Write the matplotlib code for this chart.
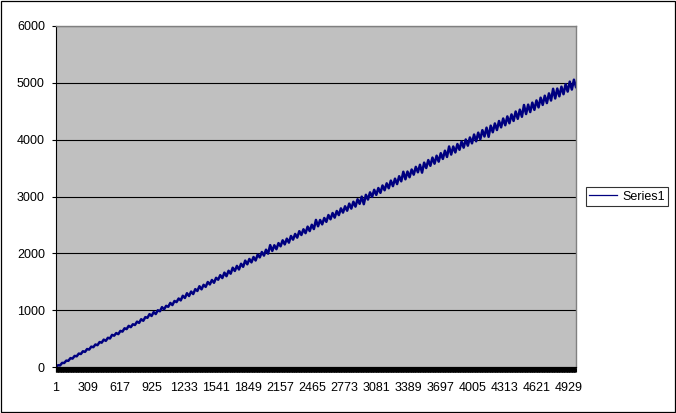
import matplotlib
matplotlib.use("Agg")
import matplotlib.pyplot as plt
from matplotlib.patches import Rectangle
import numpy as np

plt.rcParams["font.family"] = ["Liberation Sans", "DejaVu Sans"]
plt.rcParams["font.size"] = 9

# category positions of the sampled points (categories run 1..5000)
sample_idx = [1] + list(range(20, 5001, 20))

# values
series1 = [
    2, 31, 28, 72, 71, 112, 109, 156, 148, 195,
    188, 236, 229, 277, 266, 316, 307, 358, 349, 396,
    384, 439, 428, 482, 460, 514, 502, 565, 551, 597,
    578, 635, 623, 681, 667, 724, 701, 752, 739, 798,
    776, 841, 813, 878, 865, 930, 898, 966, 932, 999,
    980, 1053, 1015, 1076, 1059, 1127, 1090, 1162, 1142, 1205,
    1172, 1253, 1215, 1298, 1249, 1327, 1284, 1370, 1338, 1421,
    1367, 1446, 1410, 1495, 1453, 1531, 1482, 1569, 1536, 1616,
    1565, 1660, 1598, 1693, 1642, 1747, 1690, 1779, 1716, 1816,
    1763, 1872, 1807, 1901, 1841, 1935, 1874, 1978, 1929, 2023,
    1960, 2064, 1994, 2145, 2042, 2142, 2073, 2180, 2124, 2229,
    2157, 2258, 2188, 2305, 2241, 2341, 2276, 2390, 2323, 2423,
    2355, 2470, 2392, 2503, 2427, 2588, 2476, 2587, 2510, 2622,
    2554, 2674, 2599, 2709, 2628, 2745, 2673, 2791, 2717, 2828,
    2750, 2875, 2787, 2908, 2822, 2952, 2871, 2997, 2865, 3030,
    2946, 3073, 2993, 3118, 3028, 3149, 3064, 3194, 3110, 3232,
    3145, 3280, 3182, 3314, 3218, 3357, 3267, 3435, 3303, 3439,
    3339, 3475, 3384, 3522, 3426, 3558, 3420, 3596, 3501, 3641,
    3540, 3685, 3577, 3718, 3613, 3762, 3661, 3806, 3696, 3880,
    3738, 3880, 3775, 3923, 3822, 3967, 3859, 4004, 3894, 4039,
    3935, 4090, 3972, 4123, 4008, 4167, 4056, 4211, 4050, 4246,
    4131, 4285, 4170, 4328, 4217, 4372, 4254, 4409, 4289, 4444,
    4330, 4495, 4367, 4528, 4403, 4610, 4451, 4616, 4486, 4651,
    4525, 4690, 4568, 4738, 4612, 4773, 4644, 4814, 4689, 4895,
    4725, 4899, 4763, 4932, 4800, 4976, 4846, 5021, 4882, 5055,
    4927,
]

x_tick_labels = [1, 309, 617, 925, 1233, 1541, 1849, 2157, 2465, 2773,
                 3081, 3389, 3697, 4005, 4313, 4621, 4929]
y_ticks = [0, 1000, 2000, 3000, 4000, 5000, 6000]
n_categories = 5000

fig = plt.figure(figsize=(6.76, 4.13), dpi=100)
ax = fig.add_axes([56/676, 46/413, 520/676, 341/413])
ax.set_facecolor("#C0C0C0")

ax.plot(sample_idx, series1, color="#000080", lw=1.8, label="Series1")

ax.set_xlim(1, n_categories)
ax.set_ylim(0, 6000)
ax.set_yticks(y_ticks)
ax.set_xticks(x_tick_labels)
ax.set_xticklabels([str(v) for v in x_tick_labels])
ax.set_xticks(np.arange(1, n_categories + 1, 4), minor=True)

ax.yaxis.grid(True, color="black", lw=0.8)
ax.set_axisbelow(True)

ax.tick_params(axis="y", direction="out", length=3, width=0.8, pad=5, colors="black")
ax.tick_params(axis="x", which="major", direction="out", length=3.6, width=0.8, pad=7)
ax.tick_params(axis="x", which="minor", direction="out", length=3.6, width=0.8)

for s in ["top", "right"]:
    ax.spines[s].set_color("#808080")
    ax.spines[s].set_linewidth(1)
for s in ["left", "bottom"]:
    ax.spines[s].set_color("black")
    ax.spines[s].set_linewidth(0.8)

leg = fig.legend(handles=[plt.Line2D([], [], color="#000080", lw=0.9)],
                 labels=["Series1"],
                 loc="center", bbox_to_anchor=(627/676, 1 - 196.5/413),
                 frameon=True, fancybox=False, handlelength=2.2,
                 borderpad=0.3, handletextpad=0.4, borderaxespad=0)
leg.get_frame().set_edgecolor("black")
leg.get_frame().set_linewidth(0.8)

fig.patches.append(Rectangle((0.5/676, 1.5/413), 674/676, 411/413,
                             transform=fig.transFigure, fill=False,
                             edgecolor="black", lw=0.9))

fig.savefig("out.png", dpi=100)
